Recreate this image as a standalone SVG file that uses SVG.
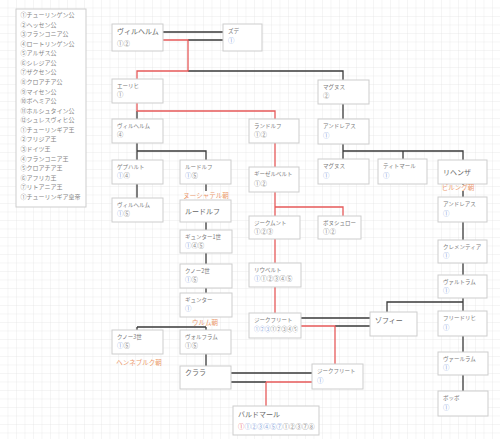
<svg xmlns="http://www.w3.org/2000/svg" width="500" height="439" viewBox="0 0 500 439">
<defs>
<pattern id="grid" x="7.5" y="7.5" width="8.5" height="8.5" patternUnits="userSpaceOnUse">
<path d="M8.5 0H0V8.5" fill="none" stroke="#e0e0e0" stroke-width="0.6"/>
</pattern>
<style>
text{font-family:"Noto Sans CJK JP","Noto Sans",sans-serif}
.box{fill:#fff;stroke:#cdcdcd;stroke-width:1}
.nm{font-size:5.5px;fill:#7a7a7a}
.big{font-size:7px;fill:#666}
.num{font-size:6.4px;fill:#888}
.b{fill:#8aa6dc}
.r{fill:#ea6b6b}
.lg{font-size:6px;fill:#858585}
.lbl{font-size:6.5px;fill:#ec9a6e;text-anchor:middle}
.k{fill:none;stroke:#3a3a3a;stroke-width:1.3}
.red{fill:none;stroke:#e65a5a;stroke-width:1.3}
</style>
</defs>
<rect width="500" height="439" fill="#fff"/>
<rect width="500" height="439" fill="url(#grid)"/>

<g id="legend">
<rect class="box" x="16" y="9" width="70" height="198"/>
<text class="lg" x="20.5" y="16.9">①チューリンゲン公</text>
<text class="lg" x="20.5" y="26.5">②ヘッセン公</text>
<text class="lg" x="20.5" y="36.1">③フランコニア公</text>
<text class="lg" x="20.5" y="45.6">④ロートリンゲン公</text>
<text class="lg" x="20.5" y="55.2">⑤アルザス公</text>
<text class="lg" x="20.5" y="64.8">⑥シレジア公</text>
<text class="lg" x="20.5" y="74.4">⑦ザクセン公</text>
<text class="lg" x="20.5" y="84.0">⑧クロアチア公</text>
<text class="lg" x="20.5" y="93.5">⑨マイセン公</text>
<text class="lg" x="20.5" y="103.1">⑩ボヘミア公</text>
<text class="lg" x="20.5" y="112.7">⑪ホルシュタイン公</text>
<text class="lg" x="20.5" y="122.3">⑫シュレスヴィヒ公</text>
<text class="lg b" x="20.5" y="131.9">①チューリンギア王</text>
<text class="lg b" x="20.5" y="141.4">②フリジア王</text>
<text class="lg b" x="20.5" y="151.0">③ドイツ王</text>
<text class="lg b" x="20.5" y="160.6">④フランコニア王</text>
<text class="lg b" x="20.5" y="170.2">⑤クロアチア王</text>
<text class="lg b" x="20.5" y="179.8">⑥アフリカ王</text>
<text class="lg b" x="20.5" y="189.3">⑦リトアニア王</text>
<text class="lg r" x="20.5" y="198.9">①チューリンギア皇帝</text>
</g>

<g id="connectors">
<path class="k" d="M163 32H223M188 40H223M188 71H343V80"/>
<path class="k" d="M137 111V119M343 104V119"/>
<path class="k" d="M137 143V160M137 151H206V160"/>
<path class="k" d="M343 144V159M343 151H463V160M403 151V159"/>
<path class="k" d="M137 184V198M206 184V191M463 184V185M463 191V197"/>
<path class="k" d="M463 222V240M463 263V275M463 298V311M463 302H387V312M463 336V352M463 375V391"/>
<path class="k" d="M206 222V230M206 253V264M206 288V293"/>
<path class="k" d="M137 327H206M137 327V330M206 327V330M206 354V366"/>
<path class="k" d="M231 373H312M231 382H266M301 318H370M335 326H370"/>
<path class="red" d="M163 40H188V71H137V79"/>
<path class="red" d="M137 103V111H275V119"/>
<path class="red" d="M275 143V167M275 192V216M275 207H343V216"/>
<path class="red" d="M275 239V263M275 287V313"/>
<path class="red" d="M301 326H335V364M266 382H312M266 382V406"/>
</g>

<g id="n-wilhelm1"><rect class="box" x="112" y="24" width="51" height="27"/><text class="big" x="117" y="34">ヴィルヘルム</text><text class="num" x="117" y="45.5">①②</text></g>
<g id="n-zude"><rect class="box" x="223" y="24" width="39" height="27"/><text class="nm" x="228" y="33">ズデ</text><text class="num b" x="228" y="43">①</text></g>
<g id="n-eric"><rect class="box" x="112" y="79" width="51" height="24"/><text class="nm" x="117" y="88">エーリヒ</text><text class="num" x="117" y="97">①</text></g>
<g id="n-magnus1"><rect class="box" x="318" y="80" width="51" height="24"/><text class="nm" x="323" y="89">マグヌス</text><text class="num" x="323" y="98">②</text></g>
<g id="n-wilhelm4"><rect class="box" x="112" y="119" width="51" height="24"/><text class="nm" x="117" y="128">ヴィルヘルム</text><text class="num" x="117" y="137">④</text></g>
<g id="n-randolf"><rect class="box" x="249" y="119" width="50" height="24"/><text class="nm" x="254" y="128">ランドルフ</text><text class="num" x="254" y="137">①②</text></g>
<g id="n-andreas1"><rect class="box" x="318" y="119" width="51" height="25"/><text class="nm" x="323" y="128">アンドレアス</text><text class="num b" x="323" y="137.5">①</text></g>
<g id="n-gebhard"><rect class="box" x="112" y="160" width="51" height="24"/><text class="nm" x="117" y="169">ゲプハルト</text><text class="num" x="117" y="178"><tspan class="b">①</tspan>④</text></g>
<g id="n-rudolf1"><rect class="box" x="180" y="160" width="51" height="24"/><text class="nm" x="185" y="169">ルードルフ</text><text class="num" x="185" y="178"><tspan class="b">①</tspan>⑤</text></g>
<g id="n-gieselbert"><rect class="box" x="249" y="167" width="50" height="25"/><text class="nm" x="254" y="176">ギーゼルベルト</text><text class="num" x="254" y="185.5">①②</text></g>
<g id="n-magnus2"><rect class="box" x="318" y="159" width="51" height="25"/><text class="nm" x="323" y="168">マグヌス</text><text class="num b" x="323" y="177.5">①</text></g>
<g id="n-titmar"><rect class="box" x="378" y="159" width="49" height="25"/><text class="nm" x="383" y="168">ティトマール</text><text class="num b" x="383" y="177.5">①</text></g>
<g id="n-lihenza"><rect class="box" x="438" y="160" width="49" height="24"/><text class="big" x="443" y="174.5">リヘンザ</text></g>
<g id="n-wilhelm5"><rect class="box" x="112" y="198" width="51" height="24"/><text class="nm" x="117" y="207">ヴィルヘルム</text><text class="num" x="117" y="216"><tspan class="b">①</tspan>⑤</text></g>
<g id="n-rudolf2"><rect class="box" x="180" y="200" width="51" height="22"/><text class="big" x="185" y="213.5">ルードルフ</text></g>
<g id="n-andreas2"><rect class="box" x="438" y="197" width="49" height="25"/><text class="nm" x="443" y="206">アンドレアス</text><text class="num b" x="443" y="215.5">①</text></g>
<g id="n-sigmund"><rect class="box" x="249" y="216" width="51" height="23"/><text class="nm" x="254" y="224.5">ジークムント</text><text class="num" x="254" y="233.5">①②③</text></g>
<g id="n-bosshero"><rect class="box" x="318" y="216" width="43" height="23"/><text class="nm" x="323" y="224.5">ボヌシュロー</text><text class="num" x="323" y="233.5">①②</text></g>
<g id="n-gunter1"><rect class="box" x="180" y="230" width="52" height="23"/><text class="nm" x="185" y="238.5">ギュンター1世</text><text class="num" x="185" y="247.5"><tspan class="b">①</tspan>④⑤</text></g>
<g id="n-clementia"><rect class="box" x="438" y="240" width="49" height="23"/><text class="nm" x="443" y="248.5">クレメンティア</text><text class="num b" x="443" y="257.5">①</text></g>
<g id="n-rupert"><rect class="box" x="249" y="263" width="52" height="24"/><text class="nm" x="254" y="272">リウベルト</text><text class="num" x="254" y="281"><tspan class="b">①</tspan>①②③④⑤</text></g>
<g id="n-kuno2"><rect class="box" x="180" y="264" width="52" height="24"/><text class="nm" x="185" y="273">クノー2世</text><text class="num" x="185" y="282"><tspan class="b">①</tspan>⑤</text></g>
<g id="n-valtram"><rect class="box" x="438" y="275" width="49" height="23"/><text class="nm" x="443" y="283.5">ヴァルトラム</text><text class="num b" x="443" y="292.5">①</text></g>
<g id="n-gunter"><rect class="box" x="180" y="293" width="52" height="24"/><text class="nm" x="185" y="302">ギュンター</text><text class="num b" x="185" y="311">①</text></g>
<g id="n-sophie"><rect class="box" x="370" y="312" width="47" height="24"/><text class="big" x="375" y="322.5">ゾフィー</text></g>
<g id="n-friedrich"><rect class="box" x="438" y="311" width="49" height="25"/><text class="nm" x="443" y="320">フリードリヒ</text><text class="num b" x="443" y="329.5">①</text></g>
<g id="n-siegfried1"><rect class="box" x="249" y="313" width="52" height="25"/><text class="nm" x="254" y="321.5">ジークフリート</text><text class="num" x="254" y="331" style="font-size:5.5px"><tspan class="b">①②③</tspan>①②③④⑤</text></g>
<g id="n-kuno3"><rect class="box" x="112" y="330" width="51" height="24"/><text class="nm" x="117" y="339">クノー3世</text><text class="num" x="117" y="348"><tspan class="b">①</tspan>⑤</text></g>
<g id="n-wolfram"><rect class="box" x="180" y="330" width="51" height="24"/><text class="nm" x="185" y="339">ヴォルフラム</text><text class="num" x="185" y="348">①⑤</text></g>
<g id="n-valram"><rect class="box" x="438" y="352" width="50" height="23"/><text class="nm" x="443" y="360.5">ヴァールラム</text><text class="num b" x="443" y="369.5">①</text></g>
<g id="n-clara"><rect class="box" x="180" y="366" width="51" height="23"/><text class="big" x="185" y="375">クララ</text></g>
<g id="n-siegfried2"><rect class="box" x="312" y="364" width="51" height="25"/><text class="nm" x="317" y="373">ジークフリート</text><text class="num b" x="317" y="382.5">①</text></g>
<g id="n-bobo"><rect class="box" x="438" y="391" width="50" height="25"/><text class="nm" x="443" y="400">ボッボ</text><text class="num b" x="443" y="409.5">①</text></g>
<g id="n-baldmar"><rect class="box" x="233" y="406" width="86" height="29"/><text class="big" x="238" y="416.5">バルドマール</text><text class="num" x="238" y="428.5"><tspan class="r">①</tspan><tspan class="b">①②③④⑤⑦</tspan>①②③⑦⑧</text></g>

<g id="labels">
<text class="lbl" x="206" y="197.5">ヌーシャテル朝</text>
<text class="lbl" x="458" y="189.5">ビルング朝</text>
<text class="lbl" x="205" y="324.5">ウルム朝</text>
<text class="lbl" x="139" y="365">ヘンネブルク朝</text>
</g>
</svg>
